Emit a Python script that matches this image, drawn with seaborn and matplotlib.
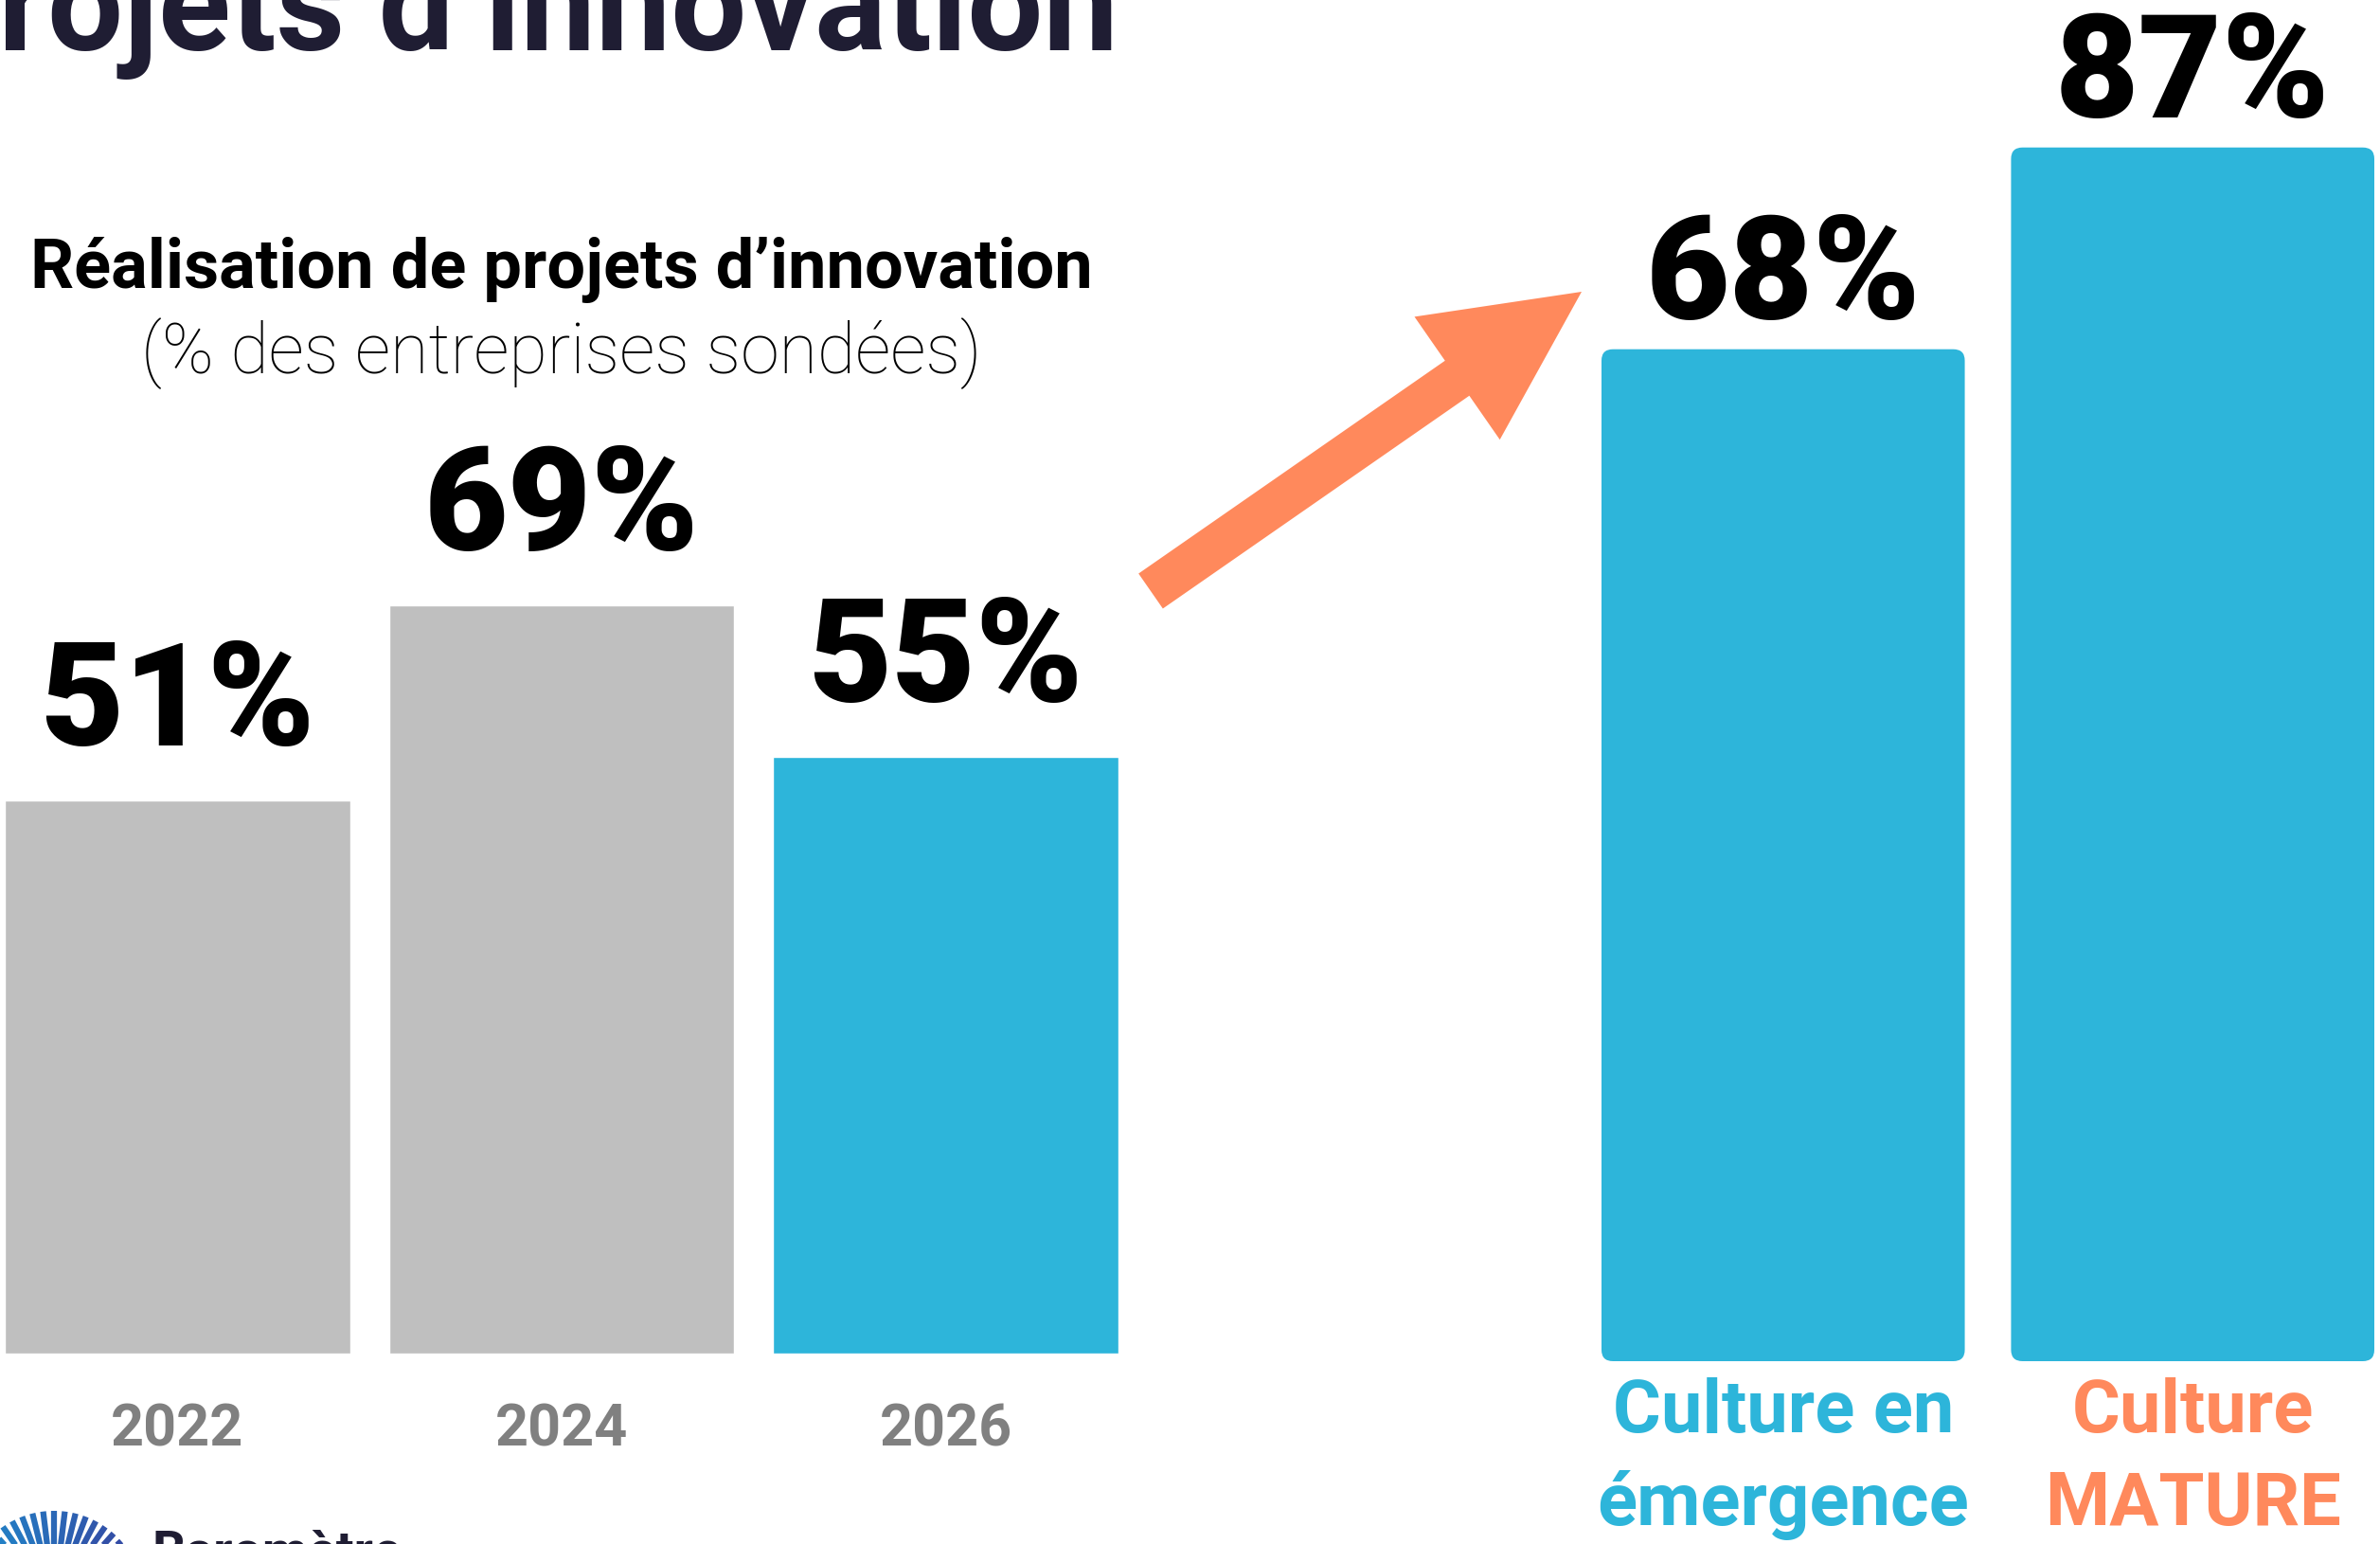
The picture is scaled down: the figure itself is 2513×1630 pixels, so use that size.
import numpy as np
import pandas as pd
import matplotlib
matplotlib.use("Agg")
import matplotlib.pyplot as plt
import seaborn as sns
from matplotlib.patches import FancyArrow, FancyBboxPatch
from matplotlib.colors import to_rgb

# ── Data ───────────────────────────────────────────────
years = ["2022", "2024", "2026"]
year_values = [51, 69, 55]
year_colors = ["#bfbfbf", "#bfbfbf", "#2db5da"]

cultures = ["Culture en\némergence", "Culture\nMATURE"]
culture_values = [68, 87]
culture_label_colors = ["#2db5da", "#ff895c"]

title_text = "Projets d’innovation"
subtitle_bold = "Réalisation de projets d’innovation"
subtitle_light = "(% des entreprises sondées)"
logo_text = "Baromètre"

BLUE = "#2db5da"
ORANGE = "#ff895c"
NAVY = "#1f1d33"

# ── Figure setup (pixel based layout) ──────────────────
W, H, DPI = 2513, 1630, 100
sns.set_theme(style="white")
plt.rcParams["font.family"] = ["Roboto", "DejaVu Sans"]

fig = plt.figure(figsize=(W / DPI, H / DPI), dpi=DPI)
fig.patch.set_facecolor("white")


def px_axes(left, top, right, bottom):
    return fig.add_axes([left / W, 1 - bottom / H, (right - left) / W, (bottom - top) / H])


# overlay in pixel coordinates for titles, arrow and logo
bg = fig.add_axes([0, 0, 1, 1])
bg.set_xlim(0, W)
bg.set_ylim(H, 0)
bg.axis("off")
bg.patch.set_alpha(0)

# ── Left chart: years ──────────────────────────────────
df_years = pd.DataFrame({"year": years, "value": year_values})
ax1 = px_axes(5, 1429 - 100 * 11.45, 1181, 1429)
sns.barplot(data=df_years, x="year", y="value", hue="year", palette=year_colors,
            width=0.9, saturation=1, legend=False, ax=ax1)
ax1.set_xlim(-0.45, 2.45)
ax1.set_ylim(0, 100)
for i, v in enumerate(year_values):
    ax1.annotate(f"{v}%", (i, v), xytext=(0, 42), textcoords="offset points",
                 ha="center", va="baseline", fontsize=110, fontweight="black", color="black")
ax1.tick_params(axis="x", length=0, pad=37, labelsize=44, labelcolor="#808080")
for lab in ax1.get_xticklabels():
    lab.set_fontweight("bold")

# ── Right chart: culture ───────────────────────────────
df_cult = pd.DataFrame({"culture": cultures, "value": culture_values})
ax2 = px_axes(1691, 1437 - 127.3 * 11.21, 2507, 1437)
sns.barplot(data=df_cult, x="culture", y="value", color=BLUE, width=0.887,
            saturation=1, ax=ax2)
ax2.set_xlim(-0.4435, 1.4435)
ax2.set_ylim(-27.3, 100)

# bars start from the floor of the axis, with rounded corners
floor = ax2.get_ylim()[0]
for p in list(ax2.patches):
    x0, w, h = p.get_x(), p.get_width(), p.get_height()
    p.set_visible(False)
    ax2.add_patch(FancyBboxPatch((x0, floor), w, h - floor,
                                 boxstyle="round,pad=0,rounding_size=0.028",
                                 mutation_aspect=38, facecolor=BLUE, edgecolor="none"))
for i, v in enumerate(culture_values):
    ax2.annotate(f"{v}%", (i, v), xytext=(0, 23), textcoords="offset points",
                 ha="center", va="baseline", fontsize=110, fontweight="black", color="black")
ax2.tick_params(axis="x", length=0, pad=12, labelsize=56)
for lab, c in zip(ax2.get_xticklabels(), culture_label_colors):
    lab.set_color(c)
    lab.set_fontweight("bold")
    lab.set_linespacing(1.42)

for ax in (ax1, ax2):
    ax.set_xlabel("")
    ax.set_ylabel("")
    ax.set_yticks([])
    ax.patch.set_visible(False)
    sns.despine(ax=ax, left=True, bottom=True)

# ── Titles ─────────────────────────────────────────────
bg.text(1181, 53, title_text, ha="right", va="baseline", fontsize=102,
        fontweight="bold", color=NAVY)
bg.text(593, 285, subtitle_bold, ha="center", va="center", fontsize=52,
        fontweight="bold", color="black")
bg.text(593, 373, subtitle_light, ha="center", va="center", fontsize=53,
        fontweight="light", color="black")

# ── Arrow ──────────────────────────────────────────────
bg.add_patch(FancyArrow(1215, 624, 455, -316, width=45, head_width=158, head_length=160,
                        length_includes_head=True, color=ORANGE, linewidth=0))

# ── Logo (bottom left, cut by the edge) ────────────────
c1, c2 = np.array(to_rgb("#1a9ad6")), np.array(to_rgb("#3b3596"))
angles = np.linspace(np.pi, 0, 27)
for k, a in enumerate(angles):
    col = c1 + (c2 - c1) * k / (len(angles) - 1)
    r0, r1 = 52, 95
    bg.plot([57 + r0 * np.cos(a), 57 + r1 * np.cos(a)],
            [1690 - r0 * np.sin(a), 1690 - r1 * np.sin(a)],
            color=col, lw=4.5, solid_capstyle="butt")
bg.text(160, 1614, logo_text, ha="left", va="top", fontsize=40, fontweight="bold", color=NAVY)

fig.savefig("out.png", dpi=DPI, facecolor="white")
